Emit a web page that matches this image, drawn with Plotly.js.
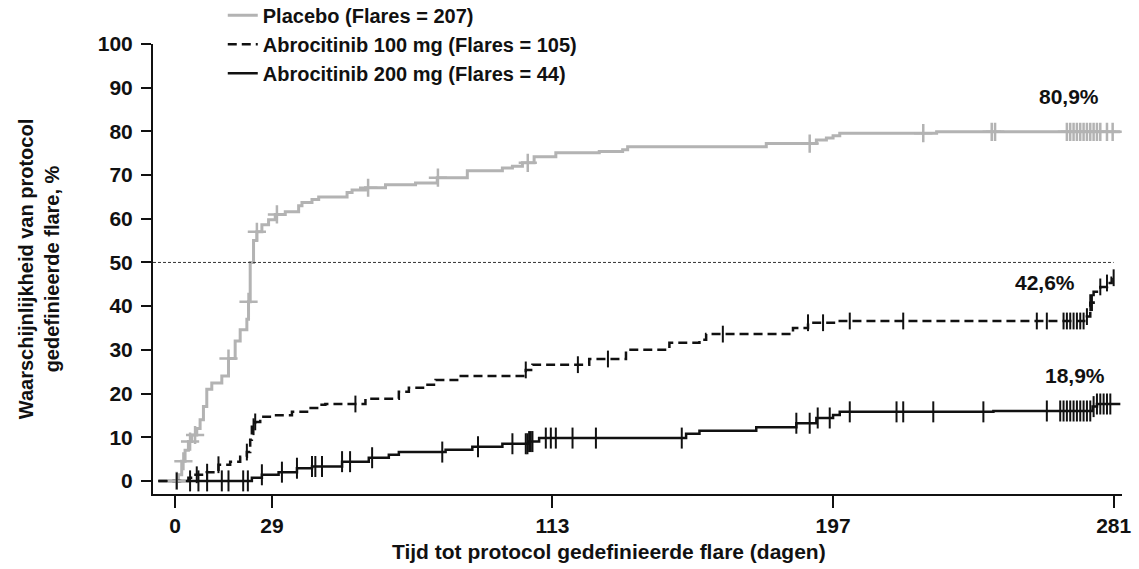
<!DOCTYPE html>
<html>
<head>
<meta charset="utf-8">
<script src="https://cdn.plot.ly/plotly-3.0.1.min.js"></script>
<style>html,body{margin:0;padding:0;background:#fff;}#chart{width:1139px;height:569px;}</style>
</head>
<body>
<div id="chart"></div>
<script>
// ---- Data ----
const seriesNames = ["Placebo (Flares = 207)", "Abrocitinib 100 mg (Flares = 105)", "Abrocitinib 200 mg (Flares = 44)"];

// Kaplan-Meier step curves: day, cumulative flare probability (%)
const placeboDays = [0, 1, 2, 3, 4, 5, 6.5, 7.5, 8.5, 9.5, 11, 14, 16, 18, 19.5, 21.5, 22, 22.5, 23.5, 24.5, 26, 28, 30, 33, 37, 38, 41, 43, 51.5, 53, 57, 63, 72, 78.5, 87.5, 98, 101, 104, 107.5, 114, 127, 134, 135.5, 177, 192, 195, 197, 199, 228, 283];
const placeboPct  = [0, 1.4, 4.5, 7, 9, 10.5, 12, 14, 17, 21, 22.4, 24, 28, 32, 34.6, 37, 41, 50, 55, 57, 58.6, 59.8, 61, 61.6, 63, 63.7, 64.4, 65, 66, 66.6, 67.1, 67.8, 68.2, 69.4, 71, 71.6, 72, 72.8, 74.2, 75.1, 75.4, 75.8, 76.5, 77.2, 78, 78.5, 79, 79.6, 79.9, 79.9];

const abro100Days = [-5, 4, 5.5, 9.5, 13, 16.5, 19.5, 21.5, 22.5, 23, 24, 25.5, 29, 35, 40, 43, 45, 57, 67, 70, 75, 78, 85, 105, 107, 124, 135, 148, 157, 159, 185, 189.5, 199, 273, 274, 275, 277, 279, 280.4, 281];
const abro100Pct  = [0, 0.7, 1.4, 2, 3.7, 4.4, 5.5, 6.6, 9.4, 12.4, 13.5, 14.7, 15, 15.8, 16.7, 17.4, 17.6, 18.8, 20.4, 21.3, 22, 23.1, 24, 25.4, 26.6, 27.9, 30, 31.6, 32.3, 33.6, 35, 36.2, 36.6, 37.6, 40.8, 43.3, 44.4, 45.3, 46.5, 46.5];

const abro200Days = [-5, 23, 26, 31, 36.5, 41, 50, 58, 64, 67, 81, 89, 98, 106, 109, 153, 157, 174, 186, 192, 197, 199, 245, 274.7, 276, 283];
const abro200Pct  = [0, 0.7, 1.4, 2, 2.9, 3.3, 4.4, 5.3, 6, 6.6, 7.1, 7.8, 8.5, 9, 9.8, 10.8, 11.5, 12.3, 13.2, 14.4, 15.1, 15.8, 16, 17, 17.6, 17.6];

// Censoring times (days)
const placeboCensor = [0.5, 2.5, 4.5, 6, 16, 22, 24.5, 30.5, 57.8, 78.7, 105.6, 190, 224, 244.5, 245.5, 267, 268, 269, 270, 271, 272, 273, 274, 275, 276, 277, 279, 280.7];
const abro100Censor = [0.5, 6.5, 9.6, 13, 21.5, 23.5, 24, 54, 105, 120.6, 129.6, 164, 189.5, 194, 202, 218, 258, 261, 266, 267, 268, 269, 270, 271, 272, 273, 274, 274.5, 277, 279, 281];
const abro200Censor = [4.5, 7, 9.6, 14, 16, 20.4, 21.8, 26, 32, 36.5, 41, 42, 44, 50, 52.4, 59, 80, 90.7, 101, 105, 105.5, 106, 106.5, 107, 111, 112.5, 114, 119, 126, 151.7, 186, 190, 192.4, 196, 202, 216, 218, 227, 242, 261, 265, 266, 267, 268, 269, 270, 271, 272, 273, 274, 275, 276, 277, 278, 279, 280];

// End-of-study labels
const endLabels = ["80,9%", "42,6%", "18,9%"];
const endLabelDay = [267.5, 260.5, 269.3];
const endLabelPct = [87.9, 45.4, 24.2];

const xTickVals = [0, 29, 113, 197, 281];
const yTickVals = [0, 10, 20, 30, 40, 50, 60, 70, 80, 90, 100];
const refLevel = 50;

// ---- helpers ----
function stepValue(days, pct, t) {
  let v = pct[0];
  for (let i = 0; i < days.length; i++) { if (days[i] <= t) v = pct[i]; else break; }
  return v;
}
function censorY(days, pct, cens) { return cens.map(t => stepValue(days, pct, t)); }

const FONT = "Liberation Sans, Arial, sans-serif";
const GRAY = "#b3b3b3";
const BLACK = "#111111";

const traces = [
  {x: placeboDays, y: placeboPct, type: "scatter", mode: "lines", line: {shape: "hv", color: GRAY, width: 3}, name: seriesNames[0]},
  {x: abro100Days, y: abro100Pct, type: "scatter", mode: "lines", line: {shape: "hv", color: BLACK, width: 2.5, dash: "9px,5px"}, name: seriesNames[1]},
  {x: abro200Days, y: abro200Pct, type: "scatter", mode: "lines", line: {shape: "hv", color: BLACK, width: 2.5}, name: seriesNames[2]},
  {x: placeboCensor, y: censorY(placeboDays, placeboPct, placeboCensor), type: "scatter", mode: "markers", showlegend: false, hoverinfo: "skip",
   marker: {symbol: "cross-thin", size: 13, line: {color: GRAY, width: 2.5}}},
  {x: abro100Censor, y: censorY(abro100Days, abro100Pct, abro100Censor), type: "scatter", mode: "markers", showlegend: false, hoverinfo: "skip",
   marker: {symbol: "line-ns", size: 12, line: {color: BLACK, width: 2}}},
  {x: abro200Censor, y: censorY(abro200Days, abro200Pct, abro200Censor), type: "scatter", mode: "markers", showlegend: false, hoverinfo: "skip",
   marker: {symbol: "line-ns", size: 15, line: {color: BLACK, width: 2}}}
];

const annotations = endLabels.map((t, i) => ({
  x: endLabelDay[i], y: endLabelPct[i], xref: "x", yref: "y", text: t, showarrow: false,
  font: {family: FONT, size: 21, color: BLACK, weight: "bold"}
}));
annotations.push({
  x: 0.471, y: -0.127, xref: "paper", yref: "paper", xanchor: "center", yanchor: "middle",
  text: "Tijd tot protocol gedefinieerde flare (dagen)", showarrow: false,
  font: {family: FONT, size: 21, color: BLACK, weight: "bold"}
});

const layout = {
  width: 1139, height: 569,
  margin: {l: 153, r: 16.5, t: 44.4, b: 75, autoexpand: false},
  paper_bgcolor: "#fff", plot_bgcolor: "#fff",
  font: {family: FONT, color: BLACK, weight: "bold"},
  showlegend: true,
  legend: {x: 0.072, y: 1.107, xanchor: "left", yanchor: "top", bgcolor: "rgba(0,0,0,0)",
           font: {family: FONT, size: 20, color: BLACK, weight: "bold"}, tracegroupgap: 0},
  xaxis: {range: [-6.6, 283.5], tickmode: "array", tickvals: xTickVals, ticktext: xTickVals.map(String),
          showline: true, linecolor: BLACK, linewidth: 2, ticks: "outside", ticklen: 12, tickwidth: 2, tickcolor: BLACK,
          showgrid: false, zeroline: false, tickfont: {family: FONT, size: 21, color: BLACK, weight: "bold"}},
  yaxis: {range: [-3, 100], tickmode: "array", tickvals: yTickVals,
          showline: true, linecolor: BLACK, linewidth: 2, ticks: "outside", ticklen: 10, tickwidth: 2, tickcolor: BLACK,
          ticklabelstandoff: 4,
          showgrid: false, zeroline: false, tickfont: {family: FONT, size: 21, color: BLACK, weight: "bold"},
          title: {text: "Waarschijnlijkheid van protocol<br>gedefinieerde flare, %", font: {family: FONT, size: 20, color: BLACK, weight: "bold"}, standoff: 33}},
  shapes: [{type: "line", xref: "x", yref: "y", x0: -6.6, x1: 281, y0: refLevel, y1: refLevel,
            line: {color: "#333", width: 1, dash: "3px,2px"}}],
  annotations: annotations
};

Plotly.newPlot("chart", traces, layout, {displayModeBar: false, staticPlot: true});
</script>
</body>
</html>
